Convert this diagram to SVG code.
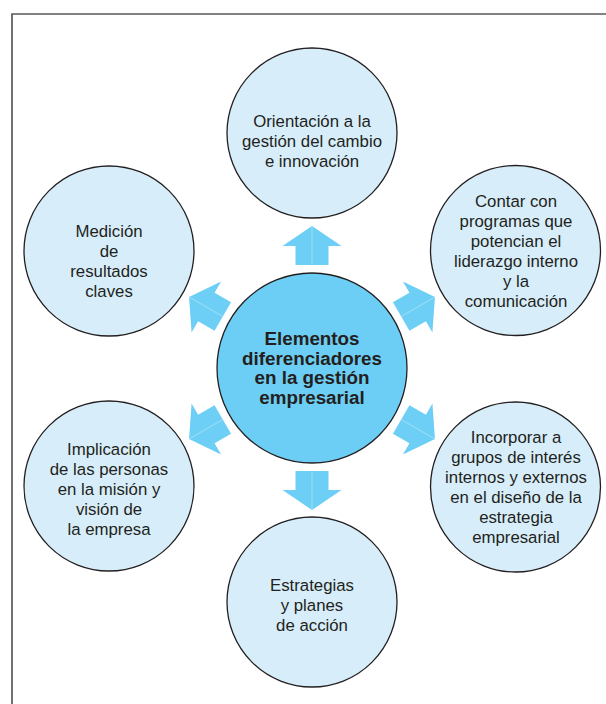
<svg xmlns="http://www.w3.org/2000/svg" width="606" height="704" viewBox="0 0 606 704">
<defs>
<style>
.outer{fill:#d7eefa;stroke:#231f20;stroke-width:1.3}
.hub{fill:#6dcef5;stroke:#231f20;stroke-width:1.3}
.arrow{fill:#6dcff6}
.seam{stroke:#a6e2f9;stroke-width:0.8;fill:none}
.t{font-family:"Liberation Sans",Arial,sans-serif;font-size:16.8px;fill:#231f20;text-anchor:middle}
.tb{font-family:"Liberation Sans",Arial,sans-serif;font-size:18.8px;font-weight:bold;fill:#231f20;text-anchor:middle}
</style>
<g id="arrowShape">
<polygon class="arrow" points="454,368 434,338.5 434,351.5 415,351.5 415,384.5 434,384.5 434,397.5"/>
<line class="seam" x1="415" y1="368" x2="454" y2="368"/>
</g>
</defs>
<path d="M12 704 V14 H606" fill="none" stroke="#5a5a5a" stroke-width="1.7"/>
<g id="connectors">
<use href="#arrowShape" transform="rotate(-90 312 368)"/>
<use href="#arrowShape" transform="rotate(-30 312 368)"/>
<use href="#arrowShape" transform="rotate(30 312 368)"/>
<use href="#arrowShape" transform="rotate(90 312 368)"/>
<use href="#arrowShape" transform="rotate(150 312 368)"/>
<use href="#arrowShape" transform="rotate(210 312 368)"/>
</g>
<g id="hub">
<circle class="hub" cx="312" cy="368" r="95"/>
<text class="tb" x="312" y="345">Elementos</text>
<text class="tb" x="312" y="364.5">diferenciadores</text>
<text class="tb" x="312" y="384">en la gestión</text>
<text class="tb" x="312" y="403.5">empresarial</text>
</g>
<g id="node-top">
<circle class="outer" cx="312" cy="133" r="85"/>
<text class="t" x="312" y="127">Orientación a la</text>
<text class="t" x="312" y="147">gestión del cambio</text>
<text class="t" x="312" y="167">e innovación</text>
</g>
<g id="node-upper-right">
<circle class="outer" cx="515.5" cy="250.5" r="85"/>
<text class="t" x="516" y="207">Contar con</text>
<text class="t" x="516" y="227">programas que</text>
<text class="t" x="516" y="247">potencian el</text>
<text class="t" x="516" y="267">liderazgo interno</text>
<text class="t" x="516" y="287">y la</text>
<text class="t" x="516" y="307">comunicación</text>
</g>
<g id="node-lower-right">
<circle class="outer" cx="515.5" cy="487" r="85"/>
<text class="t" x="516" y="443">Incorporar a</text>
<text class="t" x="516" y="463">grupos de interés</text>
<text class="t" x="516" y="483">internos y externos</text>
<text class="t" x="516" y="503">en el diseño de la</text>
<text class="t" x="516" y="523">estrategia</text>
<text class="t" x="516" y="543">empresarial</text>
</g>
<g id="node-bottom">
<circle class="outer" cx="312" cy="602" r="85"/>
<text class="t" x="312" y="591">Estrategias</text>
<text class="t" x="312" y="611">y planes</text>
<text class="t" x="312" y="631">de acción</text>
</g>
<g id="node-lower-left">
<circle class="outer" cx="109" cy="486" r="85"/>
<text class="t" x="109" y="455">Implicación</text>
<text class="t" x="109" y="475">de las personas</text>
<text class="t" x="109" y="495">en la misión y</text>
<text class="t" x="109" y="515">visión de</text>
<text class="t" x="109" y="535">la empresa</text>
</g>
<g id="node-upper-left">
<circle class="outer" cx="109" cy="251" r="85"/>
<text class="t" x="109" y="237">Medición</text>
<text class="t" x="109" y="257">de</text>
<text class="t" x="109" y="277">resultados</text>
<text class="t" x="109" y="297">claves</text>
</g>
</svg>
